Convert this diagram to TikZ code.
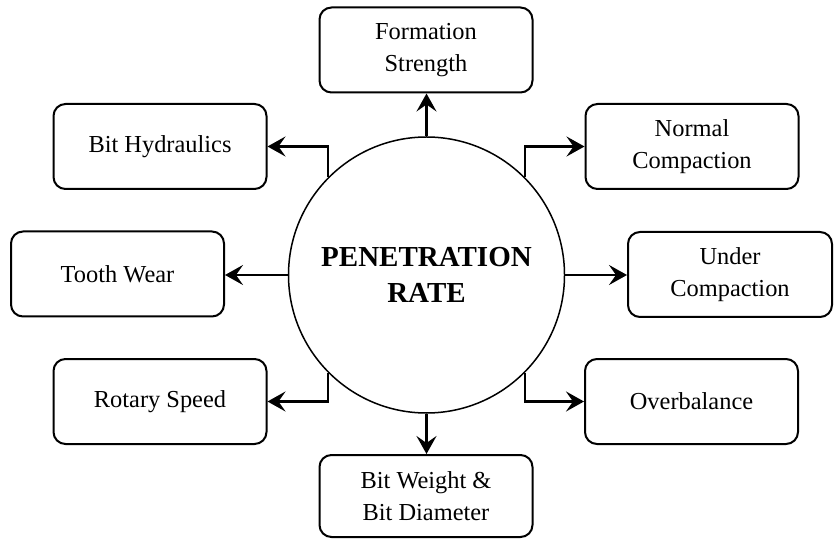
\documentclass[tikz,border=0pt]{standalone}
\usepackage{fontspec}
\setmainfont{Liberation Serif}
\usetikzlibrary{arrows.meta}
\begin{document}
\begin{tikzpicture}[x=0.5pt,y=-0.5pt,
  factor/.style={draw=black, line width=1pt, rounded corners=6pt,
    minimum width=106.5pt, minimum height=42.5pt, inner sep=0pt,
    align=center, font=\fontsize{12.2pt}{16pt}\selectfont},
  hub/.style={draw=black, line width=0.75pt, circle, minimum size=138pt,
    inner sep=0pt, align=center,
    font=\fontsize{14.5pt}{18.3pt}\selectfont\bfseries},
  link/.style={line width=1.1pt,
    -{Stealth[length=9pt,width=10pt,inset=3.5pt]}}]
  \useasboundingbox (0,0) rectangle (834,539);

  % central circle
  \node[hub] (c) at (426.5,275) {PENETRATION\\RATE};

  % surrounding factors
  \node[factor] (fs) at (426,50)  {Formation\\Strength};
  \node[factor] (bh) at (160,146.5) {Bit Hydraulics};
  \node[factor] (nc) at (692,146.5) {Normal\\Compaction};
  \node[factor] (tw) at (117.5,274) {Tooth Wear};
  \node[factor, minimum width=102pt] (uc) at (730,274.5) {Under\\Compaction};
  \node[factor] (rs) at (160,401.5) {Rotary Speed};
  \node[factor] (ob) at (691.5,401.5) {Overbalance};
  \node[factor, minimum height=41pt] (bw) at (426,496) {Bit Weight \&\\Bit Diameter};

  % straight connectors
  \draw[link] (c.north) -- (c.north |- fs.south);
  \draw[link] (c.west)  -- (c.west -| tw.east);
  \draw[link] (c.east)  -- (c.east -| uc.west);
  \draw[link] (c.south) -- (c.south |- bw.north);

  % elbow connectors
  \draw[link] (c.135) |- (bh.east);
  \draw[link] (c.45)  |- (nc.west);
  \draw[link] (c.225) |- (rs.east);
  \draw[link] (c.-45) |- (ob.west);
\end{tikzpicture}
\end{document}
